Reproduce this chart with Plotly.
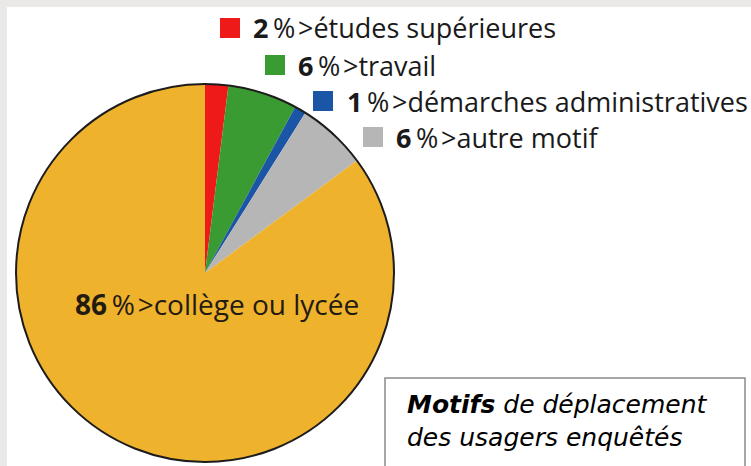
import plotly.graph_objects as go

W, H = 751, 466

labels = ["études supérieures", "travail", "démarches administratives", "autre motif", "collège ou lycée"]
values = [2, 6, 1, 6, 86]
colors = ["#ee1a1a", "#3a9b33", "#1b55a6", "#b6b6b6", "#efb22d"]

def px(x):
    return x / W

def py(y):
    return 1 - y / H

# pie geometry (pixels)
cx, cy, r = 205, 273, 189

fig = go.Figure(go.Pie(
    labels=labels, values=values, sort=False, direction="clockwise", rotation=0,
    marker=dict(colors=colors, line=dict(width=0)),
    textinfo="none", hoverinfo="label+percent", showlegend=False,
    domain=dict(x=[px(cx - r), px(cx + r)], y=[py(cy + r), py(cy - r)]),
))

shapes = [
    # light gray page edges
    dict(type="rect", xref="paper", yref="paper", x0=0, x1=1, y0=py(7), y1=1,
         fillcolor="#ebe8e8", line=dict(width=0), layer="below"),
    dict(type="rect", xref="paper", yref="paper", x0=0, x1=px(7), y0=0, y1=1,
         fillcolor="#ebe8e8", line=dict(width=0), layer="below"),
    # pie outline
    dict(type="circle", xref="paper", yref="paper", x0=px(cx - r), x1=px(cx + r),
         y0=py(cy + r), y1=py(cy - r), line=dict(color="#1c1c1c", width=2)),
    # title box
    dict(type="rect", xref="paper", yref="paper", x0=px(385), x1=px(745), y0=py(480), y1=py(378),
         fillcolor="white", line=dict(color="#8a8a8a", width=1.5)),
]

# legend rows: square left x, text left x, center y
rows = [(220, 253, 28), (265, 298, 65), (313, 347, 101), (363, 396, 137)]
annotations = []
font_leg = dict(family="Open Sans", size=27, color="#1a1a1a")
for i, (sx, tx, ty) in enumerate(rows):
    shapes.append(dict(type="rect", xref="paper", yref="paper",
                       x0=px(sx), x1=px(sx + 20), y0=py(ty + 10), y1=py(ty - 10),
                       fillcolor=colors[i], line=dict(width=0)))
    annotations.append(dict(
        xref="paper", yref="paper", x=px(tx - 2), y=py(ty), xanchor="left", yanchor="middle",
        showarrow=False, font=font_leg,
        text=f"<b>{values[i]}</b>\u2009%\u200a>{labels[i]}"))

annotations.append(dict(
    xref="paper", yref="paper", x=px(217), y=py(304), xanchor="center", yanchor="middle",
    showarrow=False, font=dict(family="Open Sans", size=28, color="#231a10"),
    text=f"<b>{values[4]}</b>\u2009%\u200a>{labels[4]}"))

annotations.append(dict(
    xref="paper", yref="paper", x=px(405), y=py(421), xanchor="left", yanchor="middle",
    showarrow=False, align="left",
    font=dict(family="DejaVu Sans", size=25, color="black"),
    text="<b><i>Motifs</i></b><i> de déplacement</i><br><i>des usagers enquêtés</i>"))

fig.update_layout(
    width=W, height=H, margin=dict(l=0, r=0, t=0, b=0),
    paper_bgcolor="white", plot_bgcolor="white",
    shapes=shapes, annotations=annotations,
)

fig.write_html("out.html", config={"displayModeBar": False},
               post_script="document.body.style.margin='0';")
